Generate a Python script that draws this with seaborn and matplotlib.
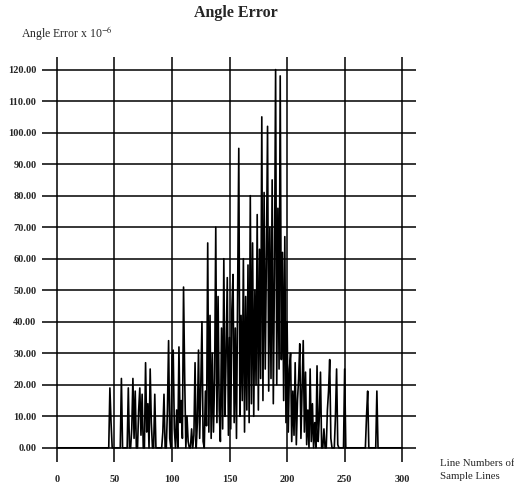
import matplotlib
matplotlib.use("Agg")
import matplotlib.pyplot as plt
import seaborn as sns
import pandas as pd

# ---- data ----
line_numbers = list(range(0, 301))
angle_error = (
    [0] * 46 +
    # 46 .. 99
    [19, 8, 0, 0, 0, 0, 0, 0, 0, 0, 22, 0, 0, 0, 0, 0, 19, 0, 0, 6,
     22, 3, 18, 0, 0, 12, 19, 4, 17, 0, 0, 27, 5, 14, 0, 25, 8, 0, 0, 17,
     0, 0, 0, 0, 0, 0, 5, 17, 0, 0, 12, 34, 3, 0] +
    # 100 .. 149
    [29, 31, 6, 0, 12, 0, 32, 8, 15, 3, 51, 22, 0, 10, 2, 0, 0, 6, 0, 4,
     27, 0, 8, 31, 3, 20, 40, 2, 0, 18, 7, 65, 5, 42, 3, 30, 5, 22, 70, 8,
     48, 12, 2, 38, 6, 60, 10, 30, 54, 4] +
    # 150 .. 199
    [35, 6, 44, 55, 8, 38, 3, 50, 95, 10, 42, 15, 60, 5, 48, 12, 58, 8, 80, 14,
     65, 10, 50, 20, 74, 12, 63, 22, 105, 15, 81, 25, 60, 102, 18, 70, 22, 85, 14, 55,
     120, 20, 76, 25, 118, 28, 62, 15, 67, 8] +
    # 200 .. 251
    [40, 5, 25, 30, 2, 18, 4, 27, 1, 15, 22, 33, 3, 18, 34, 5, 24, 1, 12, 0,
     25, 2, 14, 0, 8, 0, 26, 2, 10, 24, 0, 0, 6, 0, 0, 12, 18, 28, 3, 0,
     0, 0, 10, 25, 1, 0, 0, 0, 0, 0, 25, 0] +
    # 252 .. 281
    [0, 0, 0, 0, 0, 0, 0, 0, 0, 0, 0, 0, 0, 0, 0, 0, 0, 10, 18, 0,
     0, 0, 0, 0, 0, 0, 18, 0, 0, 0] +
    [0] * 19
)

x_ticks = [0, 50, 100, 150, 200, 250, 300]
y_ticks = [0, 10, 20, 30, 40, 50, 60, 70, 80, 90, 100, 110, 120]

df = pd.DataFrame({"line": line_numbers, "error": angle_error})

sns.set_style("white")
plt.rcParams["font.family"] = ["Liberation Serif", "DejaVu Serif"]
plt.rcParams["mathtext.fontset"] = "stix"

fig = plt.figure(figsize=(5.14, 4.87), dpi=100)
ax = fig.add_axes([42 / 514, 1 - 462 / 487, (416 - 42) / 514, (462 - 57) / 487])

sns.lineplot(data=df, x="line", y="error", color="black", linewidth=1.2, ax=ax)

ax.set_xlim(-13, 312)
ax.set_ylim(-4.5, 124)
ax.set_xticks(x_ticks)
ax.set_yticks(y_ticks)
ax.set_xticklabels([str(t) for t in x_ticks], fontsize=7.5, fontweight="bold")
ax.set_yticklabels([f"{t:.2f}" for t in y_ticks], fontsize=7.5, fontweight="bold")
ax.grid(True, color="black", linewidth=1.1)
ax.set_axisbelow(True)
for s in ax.spines.values():
    s.set_visible(False)
ax.tick_params(axis="both", length=0)
ax.tick_params(axis="y", pad=4)
ax.tick_params(axis="x", pad=9)
ax.set_xlabel("")
ax.set_ylabel("")

fig.text(236 / 514, 1 - 13 / 487, "Angle Error", ha="center", va="center",
         fontsize=11.5, fontweight="bold")
fig.text(21 / 514, 1 - 33 / 487, r"Angle Error x 10$^{-6}$", ha="left", va="center",
         fontsize=8.5)
fig.text(440 / 514, 1 - 470 / 487, "Line Numbers of\nSample Lines", ha="left",
         va="center", fontsize=7.8, linespacing=1.45)

fig.savefig("out.png", dpi=100)
